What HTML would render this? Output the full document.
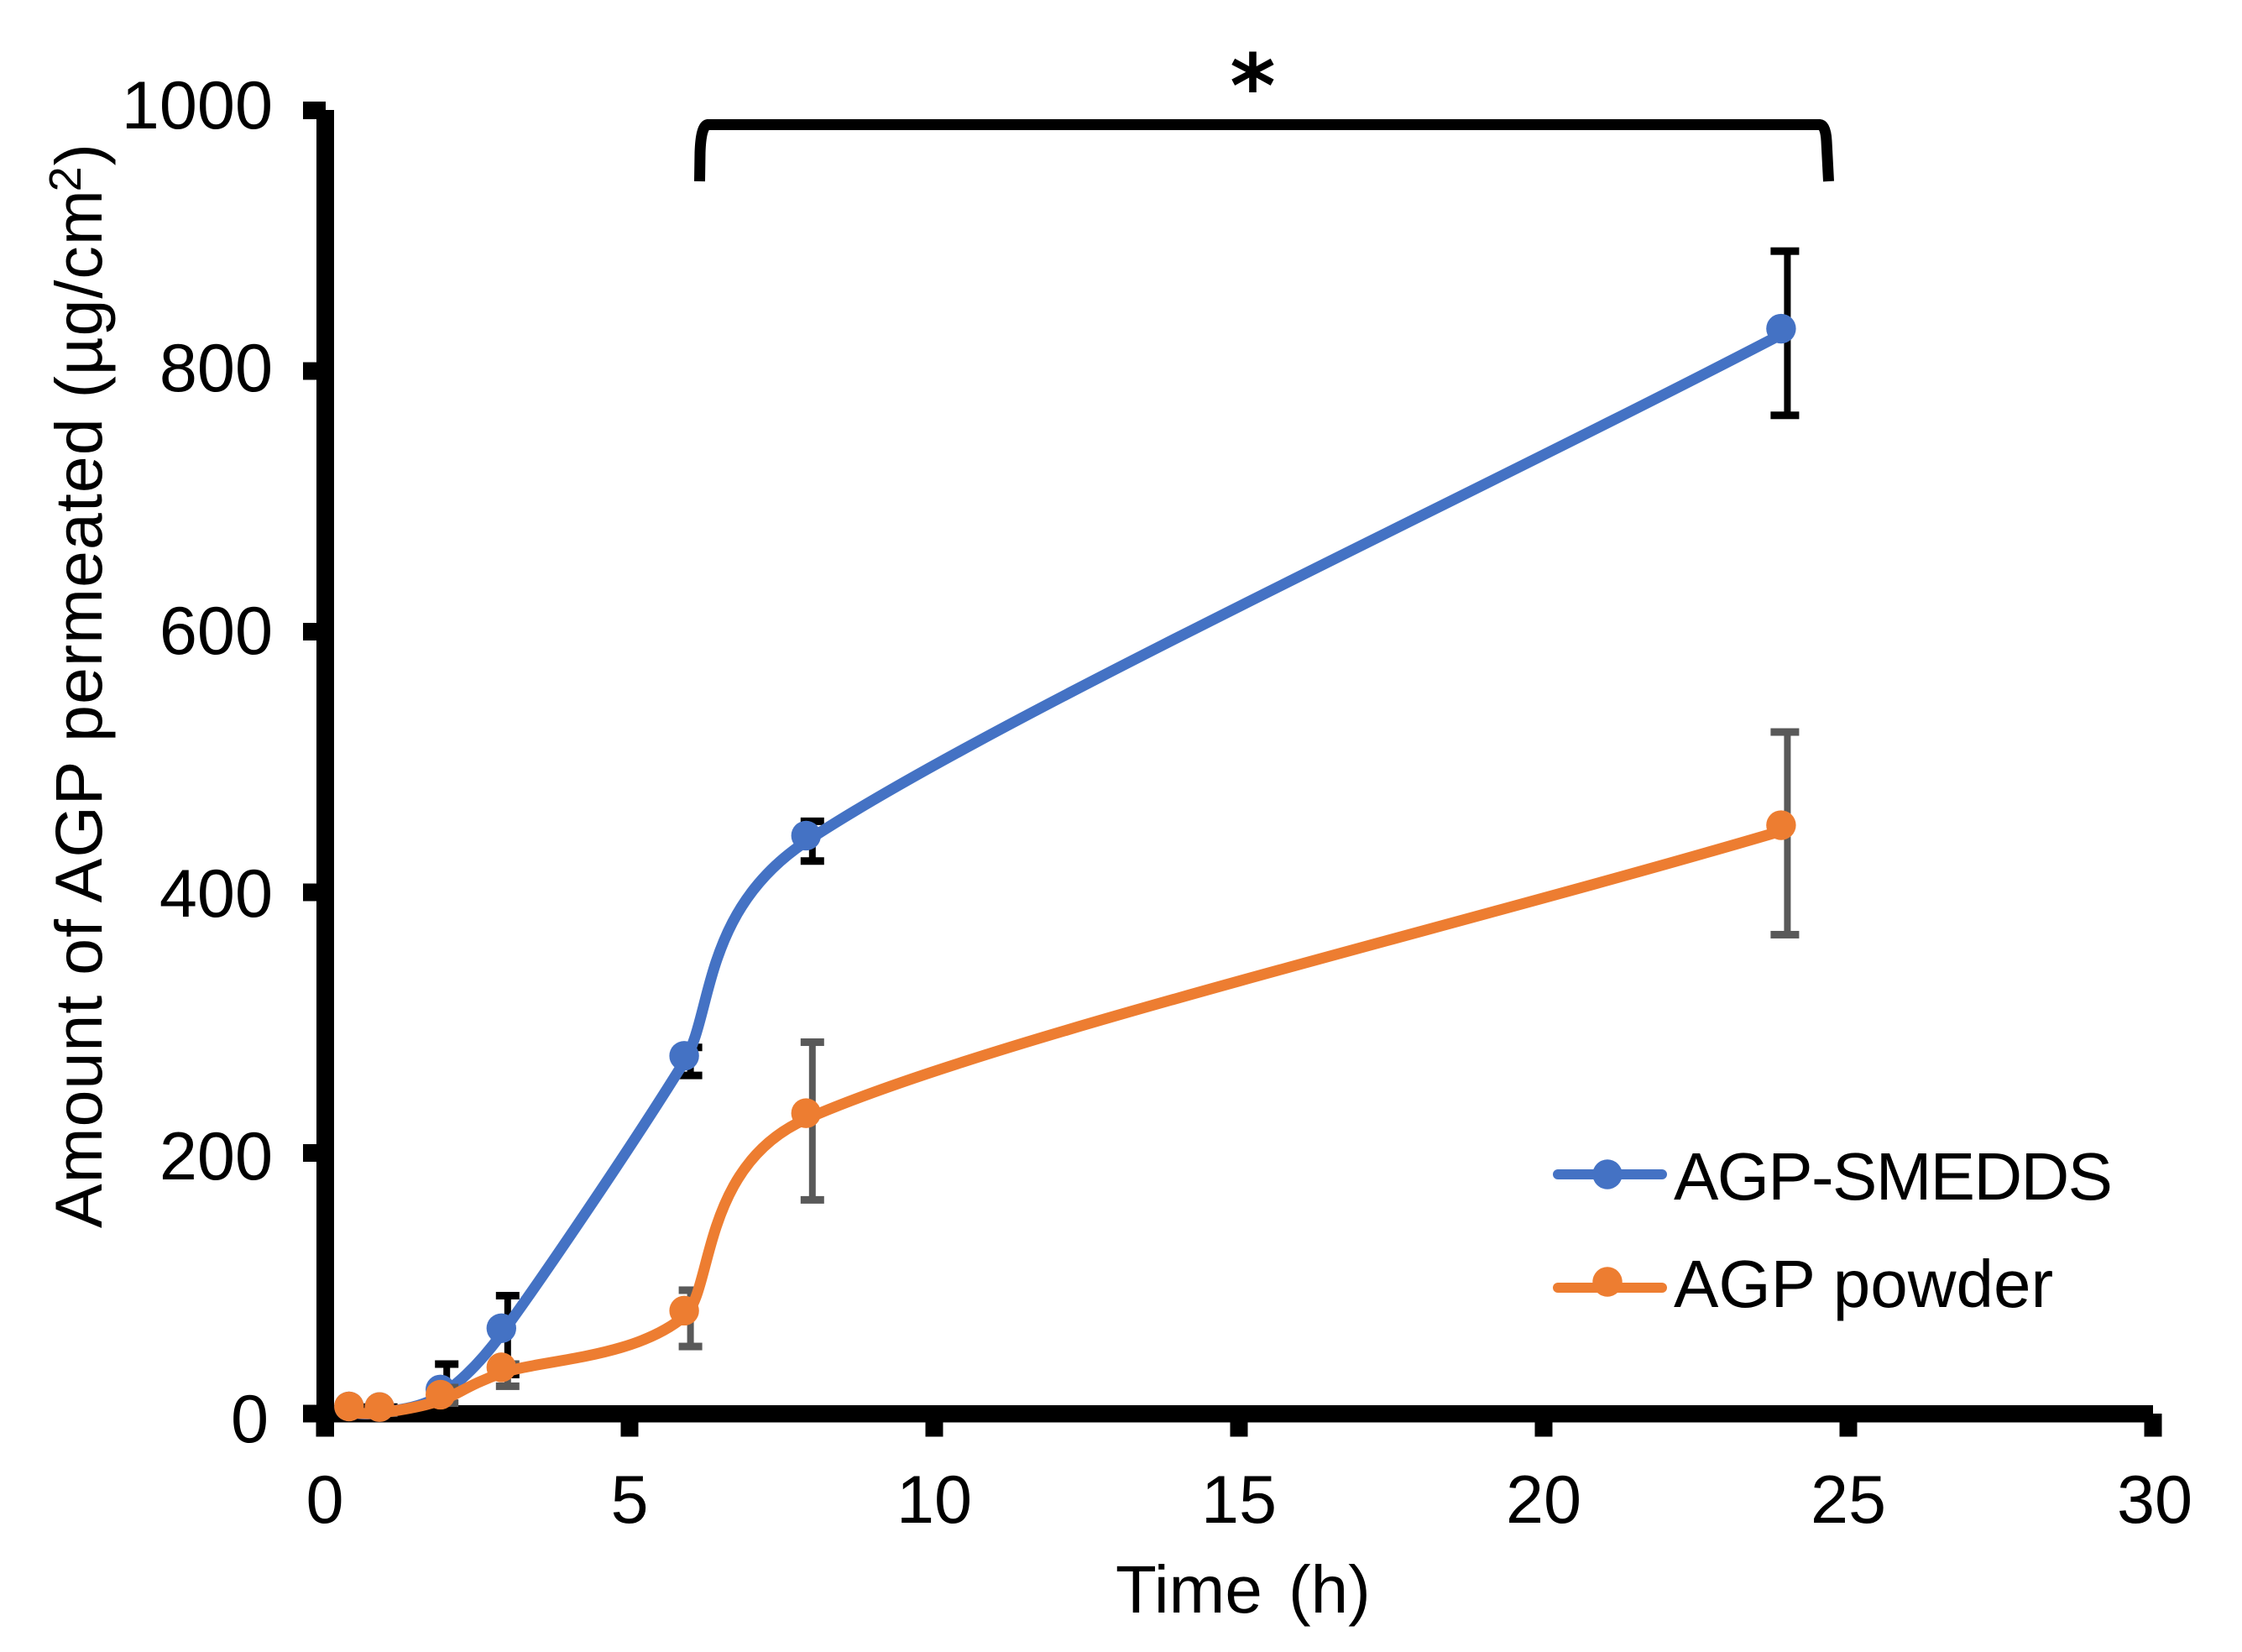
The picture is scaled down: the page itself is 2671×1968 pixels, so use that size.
<!DOCTYPE html>
<html lang="en">
<head>
<meta charset="utf-8">
<title>Amount of AGP permeated over time</title>
<style>
html,body{margin:0;padding:0;background:#fff;width:2671px;height:1968px;overflow:hidden}
svg{display:block}
text{font-family:"Liberation Sans",Arial,sans-serif;fill:#000}
</style>
</head>
<body>
<svg id="chart" xmlns="http://www.w3.org/2000/svg" width="2671" height="1968" viewBox="0 0 2671 1968">
  <rect x="0" y="0" width="2671" height="1968" fill="#fff"/>
  <g id="axes">
    <rect x="377" y="131" width="21" height="1580.5" fill="#000"/>
    <rect x="361" y="1674" width="2204" height="20.5" fill="#000"/>
  </g>
  <g id="ticks"></g>
  <g id="series"></g>
  <text transform="translate(121,1463) rotate(-90)" font-size="79" textLength="1292">Amount of AGP permeated (µg/cm<tspan font-size="54" dy="-25" dx="-3">2</tspan><tspan dy="25">)</tspan></text>
  <text x="1329" y="1921" font-size="80" word-spacing="9">Time (h)</text>
  <g>
    <path d="M833.5,216 L834,182 Q835,150 843,148.5 L2168,148.5 Q2175,149 2176,168 L2178.5,216" fill="none" stroke="#000" stroke-width="13"/>
    <text x="1492.5" y="139" font-size="104" font-weight="700" text-anchor="middle" style="font-family:'DejaVu Sans',sans-serif">*</text>
  </g>
  <g>
    <g>
      <line x1="1856" y1="1399" x2="1980" y2="1399" stroke="#4472C4" stroke-width="12" stroke-linecap="round"/>
      <circle cx="1915" cy="1399" r="17.7" fill="#4472C4"/>
      <text x="1994" y="1429" font-size="80" textLength="523">AGP-SMEDDS</text>
    </g>
    <g>
      <line x1="1856" y1="1534" x2="1980" y2="1534" stroke="#ED7D31" stroke-width="12" stroke-linecap="round"/>
      <circle cx="1915" cy="1527" r="17.7" fill="#ED7D31"/>
      <text x="1994" y="1557" font-size="80">AGP powder</text>
    </g>
  </g>
</svg>
<script>
const timePoints = [0.5, 1, 2, 3, 6, 8, 24];
const smeddsValues = [1, 0.5, 14, 61, 270, 439, 828];
const smeddsUpper = [5, 5, 38, 90.5, 281, 454.5, 892];
const smeddsLower = [0, 0, 0, 30, 259.5, 424, 766];
const powderValues = [1, 0.5, 10, 31, 74.5, 226, 447];
const powderUpper = [1.5, 1.5, 20, 38, 94.7, 285, 523];
const powderLower = [0.5, 0.3, 8, 21, 51.5, 164, 367.5];
const xTickLabels = [0, 5, 10, 15, 20, 25, 30];
const yTickLabels = [0, 200, 400, 600, 800, 1000];

const NS = 'http://www.w3.org/2000/svg';
const xScale = function (t) { return 387 + 72.6 * t; };
const yScale = function (v) { return 1684 - 1.5525 * v; };
const yLabelBaseline = function (v) { return 153 + (1000 - v) * 1.565; };
const ticksGroup = document.getElementById('ticks');
const seriesGroup = document.getElementById('series');

function make(parent, tag, attrs) {
  const node = document.createElementNS(NS, tag);
  Object.keys(attrs).forEach(function (k) { node.setAttribute(k, attrs[k]); });
  parent.appendChild(node);
  return node;
}

xTickLabels.forEach(function (t) {
  const tick = make(ticksGroup, 'rect', { x: xScale(t) - 10.5, y: 1684, width: 21, height: 27.5, fill: '#000' });
  
  
  const label = make(ticksGroup, 'text', { x: xScale(t) + (t === 30 ? 2 : 0), y: 1814, 'font-size': 81, 'text-anchor': 'middle' });
  label.textContent = String(t);
  
  
});

yTickLabels.forEach(function (v) {
  const tick = make(ticksGroup, 'rect', { x: 361, y: yScale(v) - 10.5, width: 27, height: 21, fill: '#000' });
  
  
  const label = make(ticksGroup, 'text', { x: v === 0 ? 320 : 325, y: yLabelBaseline(v), 'font-size': 81, 'text-anchor': 'end' });
  label.textContent = String(v);
  
  
});

/* Excel-style smoothed line through the series points */
function smoothPath(pts) {
  const dist = function (a, b) { return Math.hypot(a[0] - b[0], a[1] - b[1]); };
  let d = 'M' + pts[0][0] + ',' + pts[0][1];
  for (let i = 0; i < pts.length - 1; i++) {
    const p0 = pts[Math.max(i - 1, 0)], p1 = pts[i], p2 = pts[i + 1], p3 = pts[Math.min(i + 2, pts.length - 1)];
    const d02 = dist(p0, p2) || 1, d12 = dist(p1, p2), d13 = dist(p1, p3) || 1;
    let f1, f2;
    if (d02 / 6 < d12 / 2 && d13 / 6 < d12 / 2) {
      f1 = i === 0 ? 1 / 3 : 1 / 6;
      f2 = i === pts.length - 2 ? 1 / 3 : 1 / 6;
    } else if (d02 / 6 >= d12 / 2 && d13 / 6 >= d12 / 2) {
      f1 = (d12 / 2) / d02;
      f2 = (d12 / 2) / d13;
    } else if (d02 / 6 >= d12 / 2) {
      f1 = (d12 / 2) / d02;
      f2 = (d12 / 2) / d02;
    } else {
      f1 = (d12 / 2) / d13;
      f2 = (d12 / 2) / d13;
    }
    const c1x = p1[0] + f1 * (p2[0] - p0[0]), c1y = p1[1] + f1 * (p2[1] - p0[1]);
    const c2x = p2[0] - f2 * (p3[0] - p1[0]), c2y = p2[1] - f2 * (p3[1] - p1[1]);
    d += ' C' + c1x.toFixed(1) + ',' + c1y.toFixed(1) + ' ' + c2x.toFixed(1) + ',' + c2y.toFixed(1) + ' ' + p2[0].toFixed(1) + ',' + p2[1].toFixed(1);
  }
  return d;
}

function drawSeries(key, values, upper, lower, color, barColor) {
  const group = make(seriesGroup, 'g', {});
  
  
  timePoints.forEach(function (t, i) {
    const x = xScale(t);
    const capW = i === timePoints.length - 1 ? 34 : 28;
    const capX = i === timePoints.length - 1 ? x - 20 : x - 14;
    const stem = make(group, 'rect', { x: x - 4, y: yScale(upper[i]), width: 8, height: yScale(lower[i]) - yScale(upper[i]), fill: barColor });
    
    
    const capTop = make(group, 'rect', { x: capX, y: yScale(upper[i]) - 4.5, width: capW, height: 9, fill: barColor });
    
    
    const capBottom = make(group, 'rect', { x: capX, y: yScale(lower[i]) - 4.5, width: capW, height: 9, fill: barColor });
    
    
  });
  const pts = timePoints.map(function (t, i) { return [xScale(t) - 7.5, yScale(values[i])]; });
  const line = make(group, 'path', { d: smoothPath(pts), fill: 'none', stroke: color, 'stroke-width': 13, 'stroke-linejoin': 'round' });
  
  
  timePoints.forEach(function (t, i) {
    const marker = make(group, 'circle', { cx: xScale(t) - 7.5, cy: yScale(values[i]) - 7, r: 17.7, fill: color });
    
    
  });
}

drawSeries('agp-smedds', smeddsValues, smeddsUpper, smeddsLower, '#4472C4', '#000000');
drawSeries('agp-powder', powderValues, powderUpper, powderLower, '#ED7D31', '#595959');
</script>
</body>
</html>
